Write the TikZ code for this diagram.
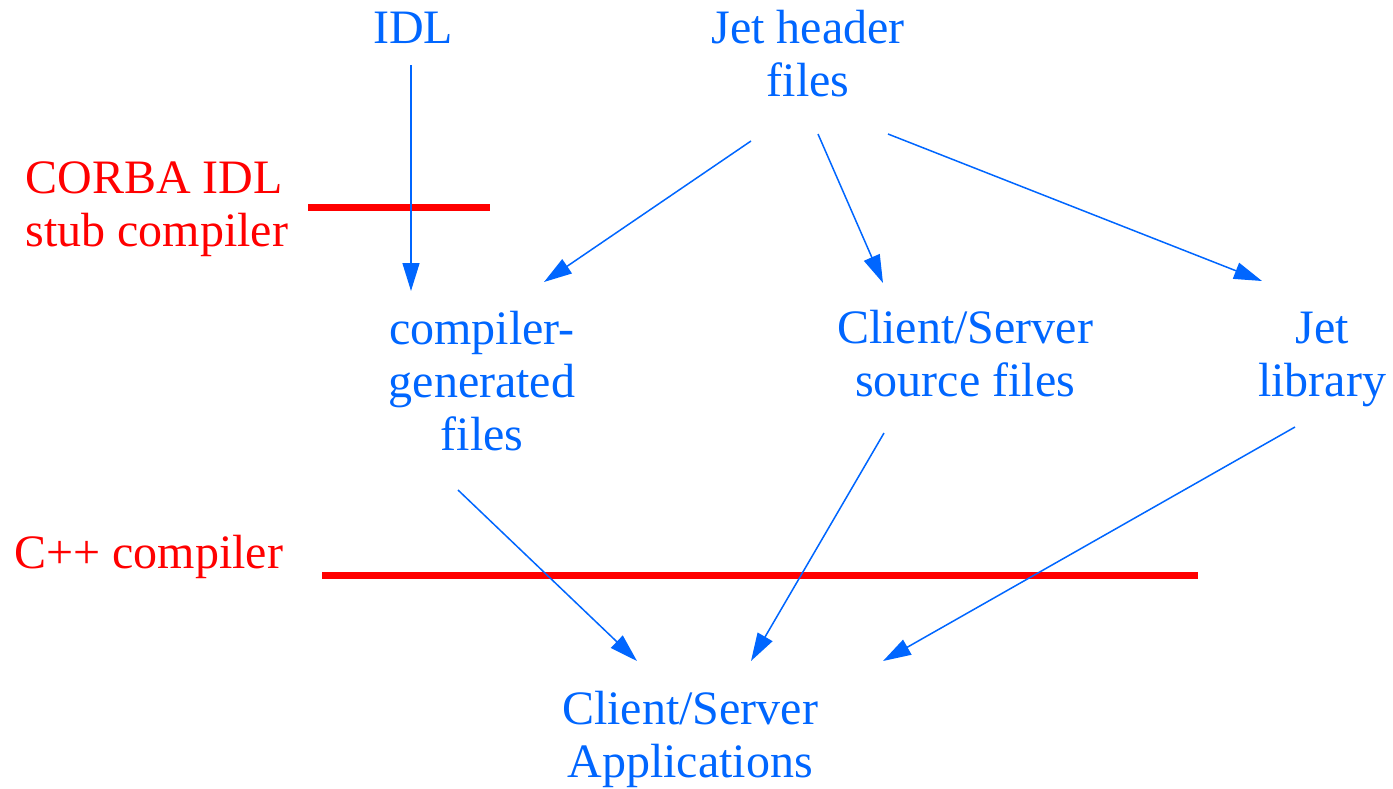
\documentclass[tikz,border=0pt]{standalone}
\usepackage{fontspec}
\setmainfont{Liberation Serif}
\usetikzlibrary{arrows.meta}
\definecolor{flowblue}{HTML}{0066FF}
\definecolor{stagered}{HTML}{FF0000}
\tikzset{
  item/.style={text=flowblue, font=\fontsize{24}{26.5}\selectfont, align=center, anchor=base, inner sep=0pt},
  stage/.style={text=stagered, font=\fontsize{24}{26.5}\selectfont, align=left, anchor=base west, inner sep=0pt},
  flow/.style={draw=flowblue, line width=0.75pt, -{Triangle[length=14pt,width=8.5pt]}},
  bar/.style={draw=stagered, line width=3.5pt}
}
\begin{document}
\begin{tikzpicture}[x=0.5pt,y=-0.5pt]
  \useasboundingbox (0,0) rectangle (1393,788);

  % sources (positions give the baseline of the last line)
  \node[item] (idl) at (413,43) {IDL};
  \node[item] (jet) at (808,96) {Jet header\\files};

  % intermediate products
  \node[item] (gen) at (482,450) {compiler-\\generated\\files};
  \node[item] (src) at (965,396) {Client/Server\\source files};
  \node[item] (lib) at (1322,396) {Jet\\library};

  % final product
  \node[item] (app) at (690,777) {Client/Server\\Applications};

  % compilation stages
  \node[stage] (corba) at (25,246) {CORBA IDL\\stub compiler};
  \node[stage] (cpp) at (14,568) {C++ compiler};
  \coordinate (corbaL) at (308,207);
  \coordinate (corbaR) at (490,207);
  \coordinate (cppL) at (322,575);
  \coordinate (cppR) at (1198,575);
  \draw[bar] (corbaL) -- (corbaR);
  \draw[bar] (cppL) -- (cppR);

  % connector end points
  \coordinate (idlOut) at (411,65);
  \coordinate (genIn) at (411,291);
  \coordinate (jetOutA) at (751,141);
  \coordinate (genInB) at (544,282);
  \coordinate (jetOutB) at (818,134);
  \coordinate (srcIn) at (883,283);
  \coordinate (jetOutC) at (888,134);
  \coordinate (libIn) at (1262,281);
  \coordinate (genOut) at (458,490);
  \coordinate (appInA) at (637,661);
  \coordinate (srcOut) at (884,433);
  \coordinate (appInB) at (751,661);
  \coordinate (libOut) at (1295,427);
  \coordinate (appInC) at (883,661);

  \draw[flow] (idlOut) -- (genIn);
  \draw[flow] (jetOutA) -- (genInB);
  \draw[flow] (jetOutB) -- (srcIn);
  \draw[flow] (jetOutC) -- (libIn);
  \draw[flow] (genOut) -- (appInA);
  \draw[flow] (srcOut) -- (appInB);
  \draw[flow] (libOut) -- (appInC);
\end{tikzpicture}
\end{document}
